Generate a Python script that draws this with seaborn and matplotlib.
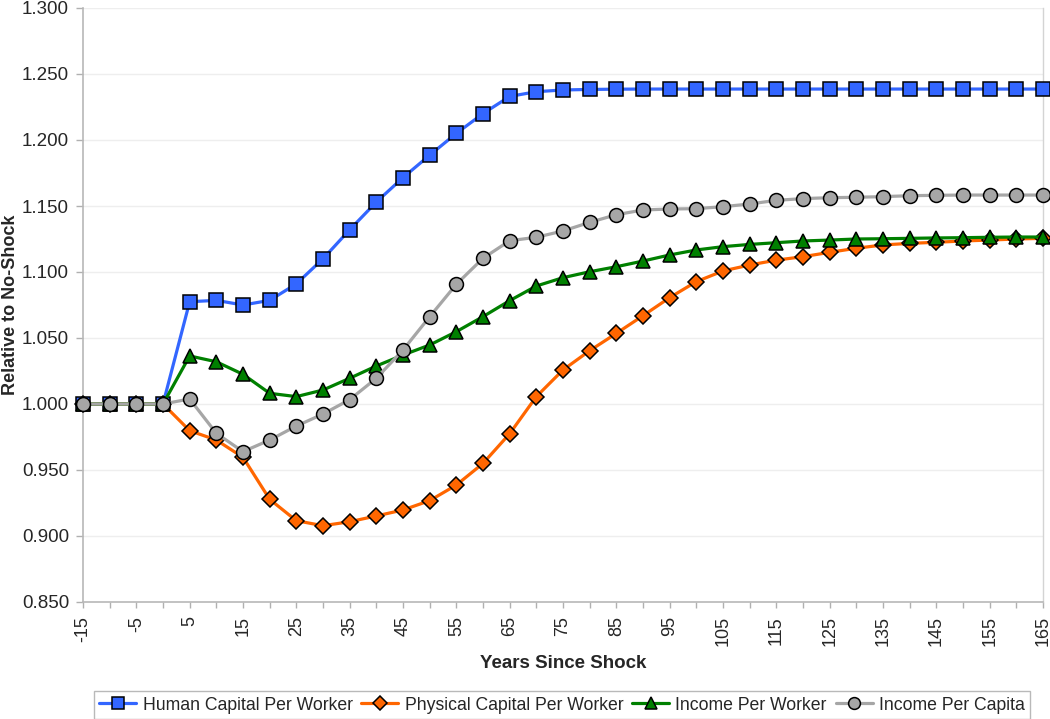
import numpy as np
import pandas as pd
import matplotlib
matplotlib.use("Agg")
import matplotlib.pyplot as plt
from matplotlib.ticker import FixedLocator, FormatStrFormatter
import seaborn as sns

# ---------------- data ----------------
years = list(range(-15, 170, 5))

human_capital = [1.000, 1.000, 1.000, 1.000,
                 1.0775, 1.0785, 1.0750, 1.0785, 1.0910, 1.1100, 1.1320, 1.1530,
                 1.1715, 1.1885, 1.2050, 1.2200, 1.2330, 1.2366, 1.2379, 1.2383,
                 1.2385, 1.2386, 1.2386, 1.2386, 1.2386, 1.2386, 1.2386, 1.2386,
                 1.2386, 1.2386, 1.2386, 1.2386, 1.2386, 1.2386, 1.2386, 1.2386, 1.2386]

physical_capital = [1.000, 1.000, 1.000, 1.000,
                    0.9798, 0.9727, 0.9596, 0.9278, 0.9116, 0.9078, 0.9108, 0.9152,
                    0.9197, 0.9268, 0.9386, 0.9550, 0.9775, 1.0056, 1.0258, 1.0404,
                    1.0535, 1.0669, 1.0806, 1.0927, 1.1008, 1.1053, 1.1090, 1.1116,
                    1.1149, 1.1180, 1.1205, 1.1217, 1.1225, 1.1235, 1.1242, 1.1250, 1.1255]

income_per_worker = [1.000, 1.000, 1.000, 1.000,
                     1.0364, 1.0320, 1.0225, 1.0081, 1.0056, 1.0106, 1.0195, 1.0288,
                     1.0371, 1.0447, 1.0548, 1.0662, 1.0783, 1.0894, 1.0957, 1.1002,
                     1.1040, 1.1083, 1.1129, 1.1167, 1.1192, 1.1209, 1.1222, 1.1235,
                     1.1242, 1.1250, 1.1252, 1.1255, 1.1258, 1.1260, 1.1263, 1.1265, 1.1265]

income_per_capita = [1.000, 1.000, 1.000, 1.000,
                     1.0038, 0.9778, 0.9639, 0.9727, 0.9833, 0.9924, 1.0033, 1.0195,
                     1.0409, 1.0661, 1.0907, 1.1104, 1.1237, 1.1263, 1.1311, 1.1376,
                     1.1434, 1.1470, 1.1477, 1.1480, 1.1495, 1.1515, 1.1543, 1.1556,
                     1.1563, 1.1566, 1.1571, 1.1578, 1.1581, 1.1583, 1.1583, 1.1583, 1.1583]

series_names = ["Human Capital Per Worker", "Physical Capital Per Worker",
                "Income Per Worker", "Income Per Capita"]
series_values = [human_capital, physical_capital, income_per_worker, income_per_capita]

x_tick_labels = [str(v) for v in range(-15, 170, 10)]
y_ticks = [0.85, 0.90, 0.95, 1.00, 1.05, 1.10, 1.15, 1.20, 1.25, 1.30]

df = pd.DataFrame({
    "year": years * len(series_names),
    "value": sum(series_values, []),
    "series": np.repeat(series_names, len(years)),
})

# ---------------- style ----------------
sns.set_theme(style="white")
plt.rcParams['font.family'] = ['Liberation Sans', 'DejaVu Sans']

colors = ["#3366FF", "#FF6600", "#008000", "#A6A6A6"]
markers = ["s", "D", "^", "o"]
msizes = [9.5, 8.0, 10.5, 10.0]

fig = plt.figure(figsize=(10.5, 7.19), dpi=100)
ax = fig.add_axes([83 / 1050, 1 - 602 / 719, 960 / 1050, 594 / 719])

for i, name in enumerate(series_names):
    sub = df[df["series"] == name]
    sns.lineplot(data=sub, x="year", y="value", ax=ax, color=colors[i],
                 marker=markers[i], markersize=msizes[i],
                 markeredgecolor="black", markeredgewidth=1.1,
                 linewidth=2.3, errorbar=None, label=name, clip_on=False,
                 zorder=3 + i)

ax.set_xlim(-15, 165)
ax.set_ylim(0.85, 1.30)

ax.xaxis.set_major_locator(FixedLocator(list(range(-15, 170, 10))))
ax.xaxis.set_minor_locator(FixedLocator(list(range(-10, 170, 10))))
ax.set_xticklabels(x_tick_labels, rotation=90, fontsize=13)
ax.set_yticks(y_ticks)
ax.yaxis.set_major_formatter(FormatStrFormatter("%.3f"))
for lab in ax.get_yticklabels():
    lab.set_fontsize(13.5)

ax.tick_params(axis="x", which="both", direction="out", length=4, width=1,
               color="#B0B0B0", pad=6, bottom=True)
ax.tick_params(axis="y", which="major", direction="out", length=5, width=1,
               color="#B0B0B0", pad=5, left=True)

ax.yaxis.grid(True, color="#EEEEEE", linewidth=1)
ax.xaxis.grid(False)
ax.set_axisbelow(True)

for side in ["left", "bottom"]:
    ax.spines[side].set_color("#B8B8B8")
    ax.spines[side].set_linewidth(1.2)
ax.spines["right"].set_color("#D4D4D4")
ax.spines["right"].set_linewidth(1.0)
ax.spines["top"].set_visible(False)

ax.set_xlabel("Years Since Shock", fontsize=13.5, fontweight="bold", va="center")
ax.set_ylabel("Relative to No-Shock", fontsize=13, fontweight="bold", va="center")
ax.xaxis.set_label_coords(480 / 960, (602 - 663) / 594)
ax.yaxis.set_label_coords((11 - 83) / 960, 0.5)

handles, labels = ax.get_legend_handles_labels()
ax.get_legend().remove()
leg = fig.legend(handles, labels, loc="center",
                 bbox_to_anchor=(562 / 1050, 1 - 705 / 719), ncol=4,
                 frameon=True, fancybox=False, edgecolor="#A8A8A8",
                 fontsize=12.7, handlelength=2.1, handletextpad=0.35,
                 columnspacing=0.5, borderpad=0.3, markerscale=0.85)
leg.get_frame().set_linewidth(1.0)

fig.savefig("out.png", dpi=100)
